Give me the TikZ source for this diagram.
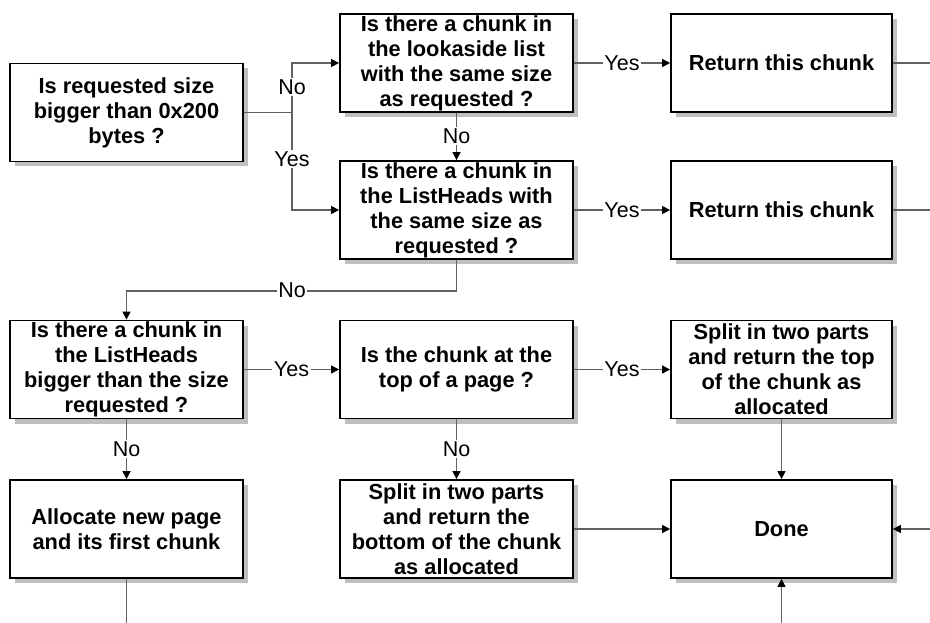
\documentclass[tikz,border=0pt]{standalone}
\usepackage{fontspec}
\setmainfont{Liberation Sans}
\usetikzlibrary{arrows.meta,shadows,calc}
\begin{document}
\begin{tikzpicture}[x=1pt,y=-1pt,
  box/.style={draw=black, line width=1.8pt, fill=white, align=center,
    minimum width=233pt, minimum height=98pt, inner sep=0pt,
    font=\bfseries\fontsize{21.8}{25}\selectfont,
    drop shadow={shadow xshift=5pt, shadow yshift=-5pt, fill=black!25, opacity=1}},
  rbox/.style={box, minimum width=221pt},
  link/.style={draw=black!62, line width=1.3pt},
  arr/.style={link, -{Triangle[length=8pt,width=8pt,fill=black,color=black]}},
  lbl/.style={fill=white, inner sep=1.5pt, text=black, font=\fontsize{21.5}{24}\selectfont}]
\useasboundingbox (0,0) rectangle (930,623);

% decision and action boxes
\node[box]  (size)   at (126.5,112.5) {Is requested size\\bigger than 0x200\\bytes ?};
\node[box]  (look)   at (456.5,63)    {Is there a chunk in\\the lookaside list\\with the same size\\as requested ?};
\node[box]  (lhsame) at (456.5,210)   {Is there a chunk in\\the ListHeads with\\the same size as\\requested ?};
\node[rbox] (ret1)   at (781.5,63)    {Return this chunk};
\node[rbox] (ret2)   at (781.5,210)   {Return this chunk};
\node[box]  (lhbig)  at (126.5,369.5) {Is there a chunk in\\the ListHeads\\bigger than the size\\requested ?};
\node[box]  (top)    at (456.5,369.5) {Is the chunk at the\\top of a page ?};
\node[rbox] (splitt) at (781.5,369.5) {Split in two parts\\and return the top\\of the chunk as\\allocated};
\node[box]  (newpg)  at (126.5,529)   {Allocate new page\\and its first chunk};
\node[box]  (splitb) at (456.5,529)   {Split in two parts\\and return the\\bottom of the chunk\\as allocated};
\node[rbox] (done)   at (781.5,529)   {Done};

% free ends running off the edges
\coordinate (r1out) at (930,63);
\coordinate (r2out) at (930,210);
\coordinate (din)   at (930,529);
\coordinate (dbot)  at (781.5,623);
\coordinate (gbot)  at (126.5,623);
\coordinate (fork)  at (292,112.5);

% size test fork
\draw[link] (size.east) -- (fork);
\draw[arr] (fork) |- (look.west);
\draw[arr] (fork) |- (lhsame.west);
\node[lbl] at (292,87) {No};
\node[lbl] at (292,159) {Yes};

% lookaside -> ListHeads
\draw[arr] (look.south) -- node[lbl]{No} (lhsame.south |- lhsame.north);

% ListHeads (same size) -> ListHeads (bigger)
\draw[arr] (lhsame.south) -- ++(0,31) -| (lhbig.north);
\node[lbl] at (292,290) {No};

% Yes branches
\draw[arr] (look.east) -- node[lbl]{Yes} (ret1.west);
\draw[arr] (lhsame.east) -- node[lbl]{Yes} (ret2.west);
\draw[arr] (lhbig.east) -- node[lbl]{Yes} (top.west);
\draw[arr] (top.east) -- node[lbl]{Yes} (splitt.west);
\draw[link] (ret1.east) -- (r1out);
\draw[link] (ret2.east) -- (r2out);

% No branches
\draw[arr] (lhbig.south) -- node[lbl]{No} (newpg.north);
\draw[arr] (top.south) -- node[lbl]{No} (splitb.north);

% into Done
\draw[arr] (splitt.south) -- (done.north);
\draw[arr] (splitb.east) -- (done.west);
\draw[arr] (din) -- (done.east);
\draw[arr] (dbot) -- (done.south);
\draw[link] (newpg.south) -- (gbot);
\end{tikzpicture}
\end{document}
